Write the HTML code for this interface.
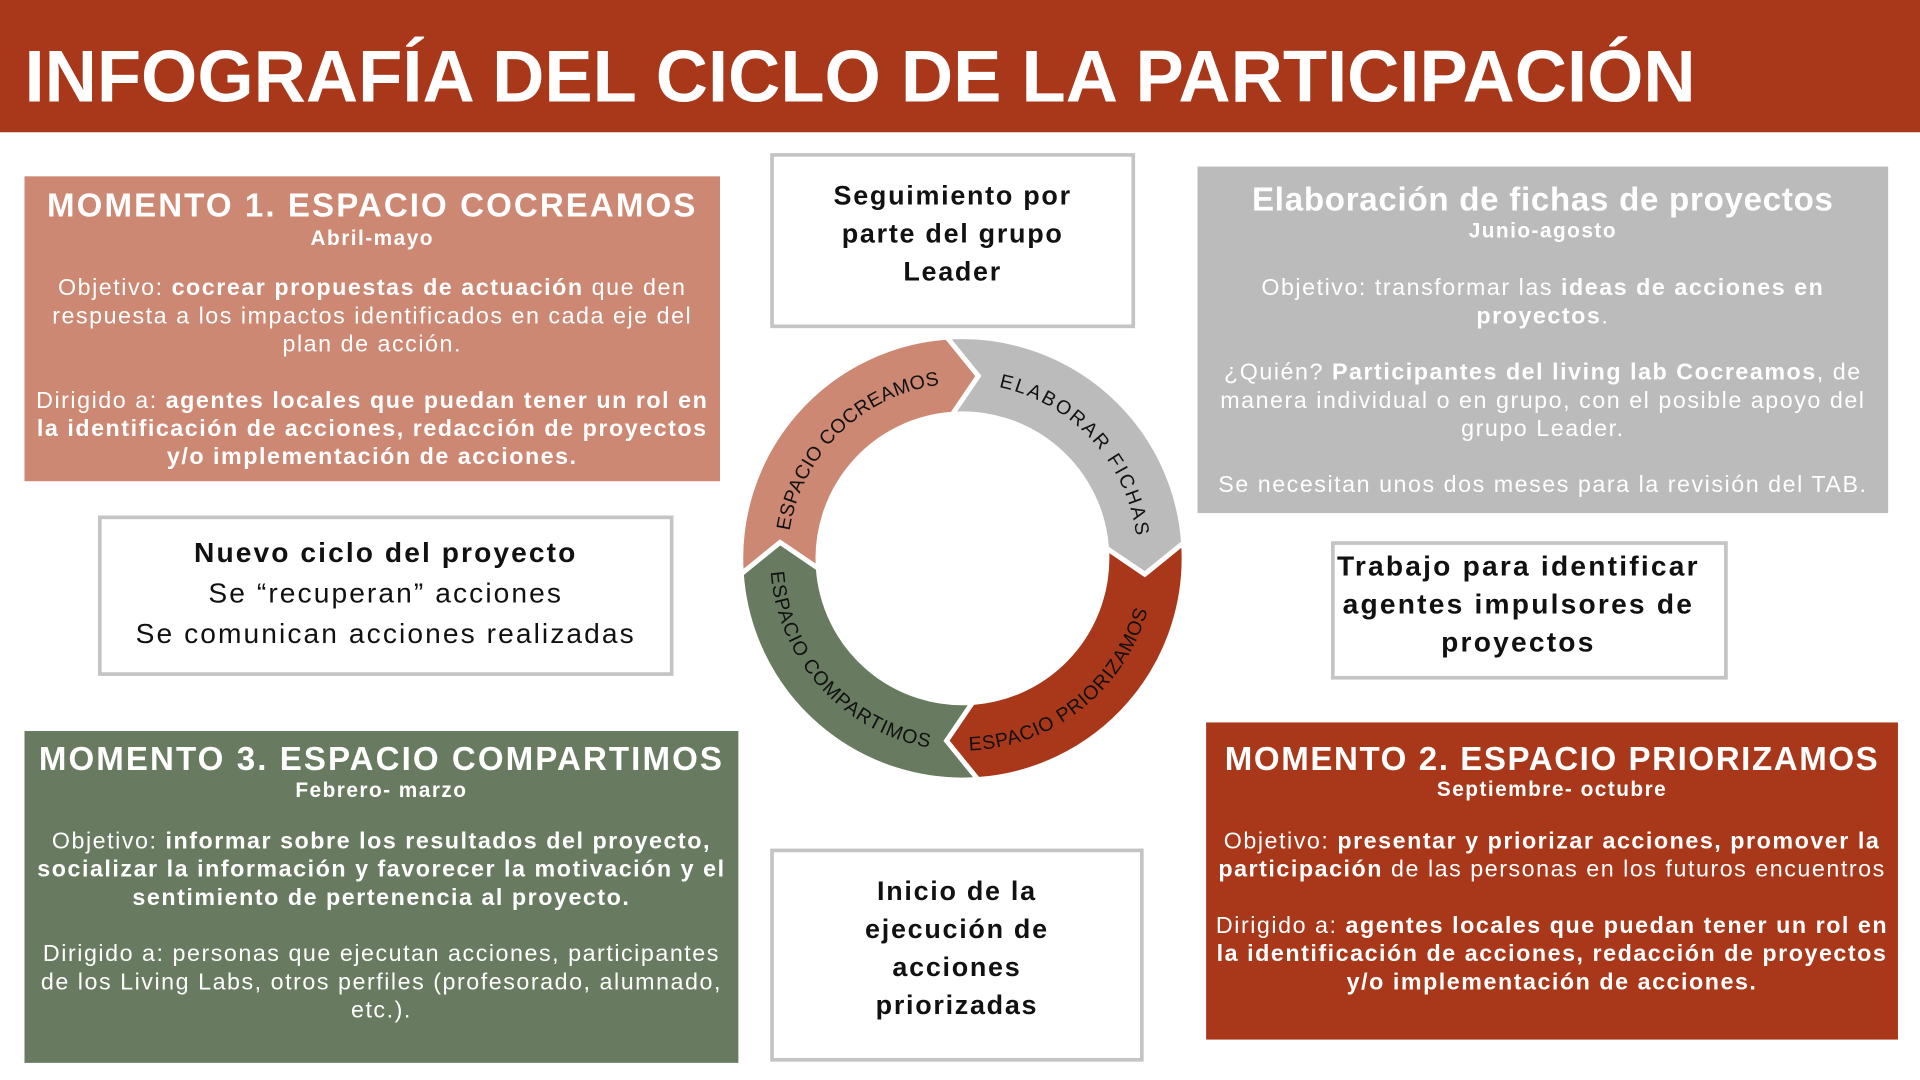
<!DOCTYPE html>
<html><head><meta charset="utf-8">
<style>
html,body{margin:0;padding:0;background:#fff;width:1920px;height:1080px;overflow:hidden}
#w{position:absolute;left:0;top:0;width:1568px;height:882px;transform:scale(1.22449);transform-origin:0 0;font-family:"Liberation Sans",sans-serif}
.b{position:absolute}
.t{position:absolute;text-align:center;white-space:nowrap;color:#fff}
.l{line-height:23px;font-size:19px;letter-spacing:1.25px}
.h{font-weight:bold;font-size:27px;line-height:30px;letter-spacing:1.7px}
.s{font-weight:bold;font-size:17px;line-height:20px;letter-spacing:1.2px}
.bx{position:absolute;border:3px solid #c4c4c4;background:#fff;box-sizing:border-box}
.k{color:#111;font-weight:bold;letter-spacing:1.4px}
</style></head><body><div id="w">
<div class="b" style="left:0;top:0;width:1568px;height:108px;background:#a9381a"></div>
<div class="t" style="left:20px;top:28px;text-align:left;font-weight:bold;font-size:60px;line-height:70px;transform:scaleX(0.985);transform-origin:0 0">INFOGRAFÍA DEL CICLO DE LA PARTICIPACIÓN</div>

<div class="b" style="left:20px;top:144px;width:568px;height:249px;background:#cd8873"></div>
<div class="t h" style="left:20px;width:568px;top:153px">MOMENTO 1. ESPACIO COCREAMOS</div>
<div class="t s" style="left:20px;width:568px;top:185px">Abril-mayo</div>
<div class="t l" style="left:20px;width:568px;top:224px">Objetivo: <b>cocrear propuestas de actuación</b> que den<br>respuesta a los impactos identificados en cada eje del<br>plan de acción.<br><br>Dirigido a: <b>agentes locales que puedan tener un rol en<br>la identificación de acciones, redacción de proyectos<br>y/o implementación de acciones.</b></div>

<div class="bx" style="left:629px;top:125px;width:298px;height:143px"></div>
<div class="t k" style="left:629px;width:298px;top:144px;font-size:22px;line-height:31px">Seguimiento por<br>parte del grupo<br>Leader</div>

<div class="b" style="left:978px;top:136px;width:564px;height:283px;background:#bbbbbb"></div>
<div class="t h" style="left:978px;width:564px;top:148px;letter-spacing:0.6px">Elaboración de fichas de proyectos</div>
<div class="t s" style="left:978px;width:564px;top:179px">Junio-agosto</div>
<div class="t l" style="left:978px;width:564px;top:224px">Objetivo: transformar las <b>ideas de acciones en<br>proyectos</b>.<br><br>¿Quién? <b>Participantes del living lab Cocreamos</b>, de<br>manera individual o en grupo, con el posible apoyo del<br>grupo Leader.<br><br>Se necesitan unos dos meses para la revisión del TAB.</div>

<div class="bx" style="left:80px;top:421px;width:470px;height:131px"></div>
<div class="t" style="left:80px;width:470px;top:435px;color:#111;font-size:23px;line-height:33px;letter-spacing:1.7px"><b>Nuevo ciclo del proyecto</b><br>Se “recuperan” acciones<br>Se comunican acciones realizadas</div>

<div class="bx" style="left:1087px;top:442px;width:324px;height:113px"></div>
<div class="t k" style="left:1087px;width:306px;top:447px;font-size:23px;line-height:31px;letter-spacing:1.8px">Trabajo para identificar<br>agentes impulsores de<br>proyectos</div>

<div class="b" style="left:20px;top:597px;width:583px;height:271px;background:#687b60"></div>
<div class="t h" style="left:20px;width:583px;top:605px">MOMENTO 3. ESPACIO COMPARTIMOS</div>
<div class="t s" style="left:20px;width:583px;top:636px">Febrero- marzo</div>
<div class="t l" style="left:20px;width:583px;top:676px">Objetivo: <b>informar sobre los resultados del proyecto,<br>socializar la información y favorecer la motivación y el<br>sentimiento de pertenencia al proyecto.</b><br><br>Dirigido a: personas que ejecutan acciones, participantes<br>de los Living Labs, otros perfiles (profesorado, alumnado,<br>etc.).</div>

<div class="bx" style="left:629px;top:693px;width:305px;height:174px"></div>
<div class="t k" style="left:629px;width:305px;top:712px;font-size:22px;line-height:31px">Inicio de la<br>ejecución de<br>acciones<br>priorizadas</div>

<div class="b" style="left:985px;top:590px;width:565px;height:259px;background:#a9381a"></div>
<div class="t h" style="left:985px;width:565px;top:605px;letter-spacing:1.3px">MOMENTO 2. ESPACIO PRIORIZAMOS</div>
<div class="t s" style="left:985px;width:565px;top:635px">Septiembre- octubre</div>
<div class="t l" style="left:985px;width:565px;top:676px">Objetivo: <b>presentar y priorizar acciones, promover la<br>participación</b> de las personas en los futuros encuentros<br><br>Dirigido a: <b>agentes locales que puedan tener un rol en<br>la identificación de acciones, redacción de proyectos<br>y/o implementación de acciones.</b></div>

<svg class="b" style="left:0;top:0" width="1568" height="882" viewBox="0 0 1568 882">
<g stroke="#fff" stroke-width="4" stroke-linejoin="miter">
<path fill="#cd8873" d="M605.44,468.63 A181 181 0 0 1 773.37,275.44 L799.03,307.07 L777.77,338.29 A118 118 0 0 0 668.29,464.23 L637.07,442.97 Z"/>
<path fill="#bbbbbb" d="M773.37,275.44 A181 181 0 0 1 966.56,443.37 L934.93,469.03 L903.71,447.77 A118 118 0 0 0 777.77,338.29 L799.03,307.07 Z"/>
<path fill="#a9381a" d="M966.56,443.37 A181 181 0 0 1 798.63,636.56 L772.97,604.93 L794.23,573.71 A118 118 0 0 0 903.71,447.77 L934.93,469.03 Z"/>
<path fill="#687b60" d="M798.63,636.56 A181 181 0 0 1 605.44,468.63 L637.07,442.97 L668.29,464.23 A118 118 0 0 0 794.23,573.71 L772.97,604.93 Z"/>
</g>
<defs>
<path id="p1" d="M644.8,433.6 A143 143 0 0 1 771.1,313.8"/>
<path id="p2" d="M815.7,316.1 A143 143 0 0 1 928.5,443.5"/>
<path id="p3" d="M791.5,612.9 A157 157 0 0 0 939.6,488.6"/>
<path id="p4" d="M629.4,467.0 A157 157 0 0 0 766.9,611.8"/>
</defs>
<g font-family="Liberation Sans, sans-serif" font-size="16" fill="#111">
<text><textPath href="#p1" textLength="183" lengthAdjust="spacing">ESPACIO COCREAMOS</textPath></text>
<text><textPath href="#p2" textLength="176" lengthAdjust="spacing">ELABORAR FICHAS</textPath></text>
<text><textPath href="#p3" textLength="198" lengthAdjust="spacing">ESPACIO PRIORIZAMOS</textPath></text>
<text><textPath href="#p4" textLength="208" lengthAdjust="spacing">ESPACIO COMPARTIMOS</textPath></text>
</g>
</svg>
</div></body></html>
